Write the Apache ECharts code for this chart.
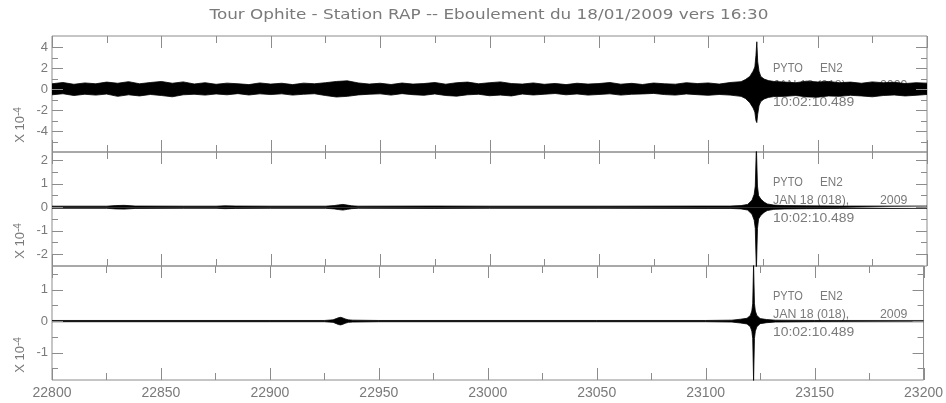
<!DOCTYPE html>
<html>
<head>
<meta charset="utf-8">
<script src="https://cdn.jsdelivr.net/npm/echarts@6/dist/echarts.min.js"></script>
<style>
html, body { margin: 0; padding: 0; background: #fff; }
.chart { width: 946px; height: 403px; }
</style>
</head>
<body>
<div class="chart"></div>
<script>
/* global echarts */
// seismogram envelopes (upper / lower), units of 1e-4

// panel 1
const t1 = [
  22800, 22805, 22810, 22815, 22820, 22825, 22830, 22835, 22840, 22845,
  22850, 22855, 22860, 22865, 22870, 22875, 22880, 22885, 22890, 22895,
  22900, 22905, 22910, 22915, 22920, 22925, 22930, 22935, 22940, 22945,
  22950, 22955, 22960, 22965, 22970, 22975, 22980, 22985, 22990, 22995,
  23000, 23005, 23010, 23015, 23020, 23025, 23030, 23035, 23040, 23045,
  23050, 23055, 23060, 23065, 23070, 23075, 23080, 23085, 23090, 23095,
  23100, 23105, 23110, 23115,
  23117, 23119, 23120.5, 23121.3, 23121.8, 23122.2, 23122.6, 23123.2, 23124, 23125.5, 23127.5, 23130,
  23135, 23140, 23145, 23150, 23155, 23160, 23165, 23170, 23175, 23180, 23185, 23190, 23195, 23200
]
const hi1 = [
  0.5, 0.62, 0.45, 0.58, 0.5, 0.66, 0.55, 0.7, 0.5, 0.62,
  0.72, 0.55, 0.68, 0.48, 0.6, 0.45, 0.56, 0.5, 0.42, 0.58,
  0.47, 0.55, 0.42, 0.56, 0.5, 0.6, 0.72, 0.78, 0.58, 0.47,
  0.55, 0.43, 0.57, 0.47, 0.52, 0.62, 0.46, 0.6, 0.66, 0.5,
  0.6, 0.68, 0.52, 0.47, 0.58, 0.45, 0.53, 0.42, 0.55, 0.47,
  0.52, 0.62, 0.46, 0.54, 0.43, 0.57, 0.5, 0.46, 0.6, 0.52,
  0.58, 0.47, 0.62, 0.7,
  0.9, 1.2, 1.7, 2.1, 3.2, 4.5, 2.6, 1.7, 1.2, 0.95, 0.8, 0.72,
  0.66, 0.6, 0.75, 0.68, 0.72, 0.6, 0.66, 0.55, 0.68, 0.6, 0.64, 0.52, 0.6, 0.56
]
const lo1 = [
  -0.55, -0.45, -0.62, -0.5, -0.58, -0.48, -0.7, -0.55, -0.66, -0.52,
  -0.62, -0.74, -0.55, -0.5, -0.58, -0.47, -0.55, -0.44, -0.57, -0.46,
  -0.53, -0.46, -0.58, -0.5, -0.45, -0.62, -0.76, -0.7, -0.56, -0.5,
  -0.46, -0.58, -0.44, -0.54, -0.6, -0.47, -0.62, -0.68, -0.55, -0.5,
  -0.64, -0.58, -0.66, -0.48, -0.57, -0.5, -0.43, -0.55, -0.47, -0.58,
  -0.52, -0.46, -0.58, -0.5, -0.47, -0.42, -0.53, -0.58, -0.47, -0.54,
  -0.6, -0.52, -0.58, -0.7,
  -0.9, -1.3, -1.8, -2.2, -3.0, -3.2, -2.4, -1.6, -1.2, -0.95, -0.8, -0.72,
  -0.7, -0.62, -0.75, -0.78, -0.66, -0.7, -0.6, -0.66, -0.74, -0.62, -0.57, -0.66, -0.6, -0.52
]

// panel 2
const t2 = [
  22800, 22825, 22829, 22833, 22838, 22860, 22875, 22879, 22884, 22900,
  22925, 22929, 22931, 22933, 22935, 22937, 22940, 22975, 23000, 23050,
  23100, 23110, 23115, 23118, 23120, 23121, 23121.5, 23122, 23122.5, 23123,
  23124, 23125.5, 23127, 23130, 23135, 23145, 23160, 23200
]
const hi2 = [
  0.045, 0.045, 0.07, 0.08, 0.05, 0.045, 0.045, 0.06, 0.05, 0.045,
  0.045, 0.07, 0.1, 0.12, 0.09, 0.06, 0.045, 0.05, 0.045, 0.045,
  0.05, 0.05, 0.07, 0.12, 0.3, 0.55, 0.9, 2.6, 0.9, 0.5,
  0.35, 0.22, 0.14, 0.09, 0.07, 0.06, 0.05, 0.05
]
const lo2 = [
  -0.045, -0.045, -0.07, -0.08, -0.05, -0.045, -0.045, -0.06, -0.05, -0.045,
  -0.045, -0.07, -0.1, -0.12, -0.09, -0.06, -0.045, -0.05, -0.045, -0.045,
  -0.05, -0.05, -0.07, -0.12, -0.3, -0.55, -0.9, -2.7, -0.9, -0.5,
  -0.35, -0.22, -0.14, -0.09, -0.07, -0.06, -0.05, -0.05
]

// panel 3
const t3 = [
  22800, 22900, 22925, 22929, 22930.5, 22931.5, 22932.5, 22933.5, 22934.5, 22936,
  22938, 22950, 23050, 23100, 23112, 23116, 23119, 23120.5, 23121.2, 23121.6,
  23122, 23122.4, 23122.8, 23123.5, 23125, 23128, 23132, 23150, 23200
]
const hi3 = [
  0.02, 0.02, 0.02, 0.04, 0.08, 0.11, 0.12, 0.1, 0.07, 0.04,
  0.03, 0.02, 0.02, 0.02, 0.03, 0.06, 0.09, 0.18, 0.32, 0.55,
  1.8, 0.55, 0.32, 0.18, 0.08, 0.05, 0.03, 0.02, 0.02
]
const lo3 = [
  -0.02, -0.02, -0.02, -0.04, -0.08, -0.11, -0.12, -0.1, -0.07, -0.04,
  -0.03, -0.02, -0.02, -0.02, -0.03, -0.06, -0.09, -0.18, -0.32, -0.55,
  -1.9, -0.55, -0.32, -0.18, -0.08, -0.05, -0.03, -0.02, -0.02
]

// ticks
const xMajor = [22800, 22850, 22900, 22950, 23000, 23050, 23100, 23150, 23200]
const xMinor = [22825, 22875, 22925, 22975, 23025, 23075, 23125, 23175]
const major1 = [-4, -2, 0, 2, 4]
const minor1 = [-5, -3, -1, 1, 3]
const major2 = [-2, -1, 0, 1, 2]
const minor2 = [-1.5, -0.5, 0.5, 1.5]
const major3 = [-1, 0, 1]
const minor3 = [-1.5, -0.5, 0.5, 1.5]

const title = 'Tour Ophite - Station RAP -- Eboulement du 18/01/2009 vers 16:30'
const station = ['PYTO', 'EN2']
const dateLine = ['JAN 18 (018),', '2009']
const timeLine = '10:02:10.489'

const font = 'Liberation Sans'
const frame = '#8c8c8c'
const gray = '#7a7a7a'
const ink = '#000'
const X0 = 22800
const X1 = 23200
const gridLeft = 52
const gridRight = 19

const panels = [
  { t: t1, hi: hi1, lo: lo1, min: -6, max: 5.05, major: major1, minor: minor1, top: 36, height: 116 },
  { t: t2, hi: hi2, lo: lo2, min: -2.5, max: 2.35, major: major2, minor: minor2, top: 152, height: 114 },
  { t: t3, hi: hi3, lo: lo3, min: -1.87, max: 1.75, major: major3, minor: minor3, top: 266, height: 114 }
]

const grid = []
const xAxis = []
const yAxis = []
const series = []

panels.forEach((p, i) => {
  grid.push({
    left: gridLeft,
    right: gridRight,
    top: p.top,
    height: p.height,
    show: true,
    borderColor: frame,
    borderWidth: 1,
    backgroundColor: 'transparent'
  })
  xAxis.push({
    type: 'value',
    gridIndex: i,
    min: X0,
    max: X1,
    interval: 50,
    axisLine: { show: false, onZero: false },
    axisTick: { show: false },
    axisLabel: {
      show: i === 2,
      formatter: v => String(v),
      margin: 6,
      color: gray,
      fontFamily: font,
      fontSize: 14
    },
    splitLine: { show: false }
  })
  yAxis.push({
    type: 'value',
    gridIndex: i,
    min: p.min,
    max: p.max,
    axisLine: { show: false, onZero: false },
    axisTick: { show: false },
    axisLabel: {
      customValues: p.major,
      margin: 4,
      color: gray,
      fontFamily: font,
      fontSize: 13
    },
    splitLine: { show: false }
  })
  ;[p.hi, p.lo].forEach(env => {
    series.push({
      type: 'line',
      xAxisIndex: i,
      yAxisIndex: i,
      data: p.t.map((x, k) => [x, env[k]]),
      showSymbol: false,
      symbol: 'none',
      silent: true,
      clip: true,
      lineStyle: { color: ink, width: 0.8 },
      areaStyle: { color: ink, opacity: 1 }
    })
  })
})

const texts = [
  {
    type: 'text',
    x: 489,
    y: 15,
    scaleX: 1.2,
    style: { text: title, fill: gray, font: '14px "DejaVu Sans"', textAlign: 'center', textVerticalAlign: 'middle' }
  }
]

function note (text, x, y, sx) {
  return {
    type: 'text',
    z: 0,
    x: x,
    y: y,
    scaleX: sx,
    style: { text: text, fill: gray, font: '13px "' + font + '"', textVerticalAlign: 'middle' }
  }
}

const nameY = [125, 241, 355]
const noteY = [[68, 85, 102], [182, 200, 218], [296, 314, 332]]
nameY.forEach((y, i) => {
  texts.push({
    type: 'text',
    x: 20,
    y: y,
    rotation: Math.PI / 2,
    style: {
      text: '{a|X 10}{b|-4}',
      textAlign: 'center',
      textVerticalAlign: 'middle',
      rich: {
        a: { fontSize: 13, fontFamily: font, fill: gray },
        b: { fontSize: 10, fontFamily: font, fill: gray, verticalAlign: 'top' }
      }
    }
  })
  const ny = noteY[i]
  texts.push(note(station[0], 773, ny[0], 0.85))
  texts.push(note(station[1], 820, ny[0], 0.9))
  texts.push(note(dateLine[0], 773, ny[1], 0.95))
  texts.push(note(dateLine[1], 880, ny[1], 0.95))
  texts.push(note(timeLine, 773, ny[2], 1.07))
})

const chartDom = echarts.init(document.querySelector('.chart'))
chartDom.setOption({
  animation: false,
  backgroundColor: '#fff',
  grid,
  xAxis,
  yAxis,
  series
})

// data value -> pixel through the panel's axes; linear fallback on the same layout
function toPx (i, p, v) {
  let r = null
  try {
    r = chartDom.convertToPixel({ xAxisIndex: i, yAxisIndex: i }, v)
  } catch (e) {
    r = null
  }
  if (!r || !isFinite(r[0]) || !isFinite(r[1])) {
    const w = chartDom.getWidth() - gridLeft - gridRight
    r = [
      gridLeft + (v[0] - X0) / (X1 - X0) * w,
      p.top + (p.max - v[1]) / (p.max - p.min) * p.height
    ]
  }
  return r
}

// inward tick marks on all four sides, as 1px filled bars
function bar (x, y, w, h) {
  return {
    type: 'rect',
    silent: true,
    z: 10,
    shape: { x: x, y: y, width: w, height: h },
    style: { fill: frame }
  }
}

const marks = []
panels.forEach((p, i) => {
  ;[[xMajor, 12], [xMinor, 7]].forEach(([vals, len]) => {
    vals.forEach(v => {
      const b = toPx(i, p, [v, p.min])
      const t = toPx(i, p, [v, p.max])
      const x = Math.round(b[0])
      marks.push(bar(x, b[1] - len, 1, len))
      marks.push(bar(x, t[1], 1, len))
    })
  })
  ;[[p.major, 11], [p.minor, 6]].forEach(([vals, len]) => {
    vals.forEach(v => {
      const l = toPx(i, p, [X0, v])
      const r = toPx(i, p, [X1, v])
      const y = Math.round(l[1])
      marks.push(bar(l[0], y, len, 1))
      marks.push(bar(r[0] - len, y, len, 1))
    })
  })
})

chartDom.setOption({ graphic: { elements: texts.concat(marks) } })

window.onresize = () => {
  chartDom.resize()
}
</script>
</body>
</html>
